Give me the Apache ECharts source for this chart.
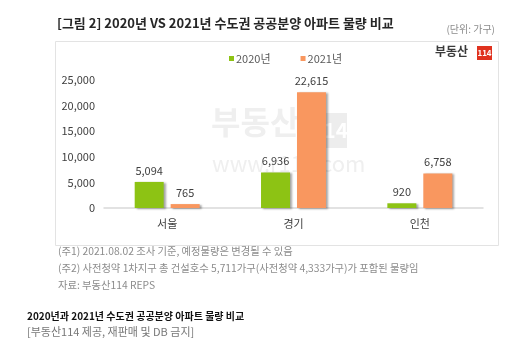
<!DOCTYPE html>
<html>
<head>
<meta charset="utf-8">
<script src="https://cdn.jsdelivr.net/npm/echarts@6/dist/echarts.min.js"></script>
<style>
  html, body { margin: 0; padding: 0; background: #fff; }
  #chart { width: 521px; height: 345px; }
</style>
</head>
<body>
<div id="chart"></div>
<script>
// 수도권 공공분양 아파트 물량 (단위: 가구)
const regions = ['서울', '경기', '인천'];
const seriesNames = ['2020년', '2021년'];
const values2020 = [5094, 6936, 920];
const values2021 = [765, 22615, 6758];
const yTicks = [0, 5000, 10000, 15000, 20000, 25000];

const FONT = '"Noto Sans CJK KR", "Noto Sans", sans-serif';
const GREEN = '#8dc314';
const ORANGE = '#f9975f';

const chart = echarts.init(document.getElementById('chart'), null, { renderer: 'canvas' });

const fmt = v => v.toLocaleString('en-US');

function barSeries(name, data, color) {
  return {
    name: name,
    type: 'bar',
    data: data,
    barWidth: 29,
    barGap: '24%',
    itemStyle: {
      color: color,
      shadowColor: 'rgba(0,0,0,0.35)',
      shadowBlur: 2,
      shadowOffsetX: 2,
      shadowOffsetY: 1
    },
    label: {
      show: true,
      position: 'top',
      distance: 6,
      formatter: p => fmt(p.value),
      color: '#404040',
      fontFamily: FONT,
      fontSize: 11
    },
    z: 5
  };
}

chart.setOption({
  animation: false,
  backgroundColor: '#ffffff',
  textStyle: { fontFamily: FONT },
  grid: { left: 104, right: 38, top: 80, bottom: 137, containLabel: false },
  legend: {
    data: seriesNames,
    top: 48,
    left: 224,
    itemWidth: 5,
    itemHeight: 5,
    itemGap: 30,
    icon: 'rect',
    textStyle: { fontSize: 11, color: '#595959', fontFamily: FONT, padding: [0, 0, 0, -3] }
  },
  xAxis: {
    type: 'category',
    data: regions,
    axisLine: { lineStyle: { color: '#d9d9d9', width: 1.5 } },
    axisTick: { show: false },
    axisLabel: { color: '#404040', fontSize: 11, margin: 10, fontFamily: FONT }
  },
  yAxis: {
    type: 'value',
    min: yTicks[0],
    max: yTicks[yTicks.length - 1],
    interval: yTicks[1] - yTicks[0],
    splitLine: { show: false },
    axisLine: { show: false },
    axisTick: { show: false },
    axisLabel: { color: '#404040', fontSize: 11, margin: 9, fontFamily: FONT, formatter: v => fmt(v) }
  },
  series: [
    barSeries(seriesNames[0], values2020, GREEN),
    barSeries(seriesNames[1], values2021, ORANGE)
  ],
  graphic: [
    // 차트 프레임
    { type: 'rect', left: 53, top: 39, shape: { width: 443, height: 204 },
      style: { fill: 'none', stroke: '#e3e3e3', lineWidth: 1 }, z: 0, silent: true },
    // 제목
    { type: 'text', left: 57, top: 17, style: { text: '[그림 2] 2020년 VS 2021년 수도권 공공분양 아파트 물량 비교',
      fontFamily: FONT, fontSize: 13, fontWeight: 'bold', fill: '#262626' } },
    { type: 'text', right: 26, top: 24, style: { text: '(단위: 가구)',
      fontFamily: FONT, fontSize: 10, fill: '#8c8c8c' } },
    // 로고
    { type: 'text', left: 435, top: 45, style: { text: '부동산',
      fontFamily: FONT, fontSize: 12, fontWeight: 'bold', fill: '#3a3a3a' } },
    { type: 'rect', left: 477, top: 46, shape: { width: 15, height: 14 }, style: { fill: '#e0321f' } },
    { type: 'text', x: 484.5, y: 53, style: { text: '114', align: 'center', verticalAlign: 'middle',
      fontFamily: FONT, fontSize: 8, fontWeight: 'bold', fill: '#ffffff' } },
    // 워터마크
    { type: 'text', left: 211, top: 106, z: 1, silent: true, style: { text: '부동산',
      fontFamily: FONT, fontSize: 32, fontWeight: 'bold', fill: '#efefef' } },
    { type: 'rect', left: 312, top: 113, z: 1, silent: true, shape: { width: 35, height: 35 }, style: { fill: '#ededed' } },
    { type: 'text', x: 329.5, y: 130.5, z: 1, silent: true, style: { text: '114', align: 'center', verticalAlign: 'middle',
      fontFamily: FONT, fontSize: 21, fontWeight: 'bold', fill: '#ffffff' } },
    { type: 'text', left: 212, top: 153, z: 1, silent: true, style: { text: 'www.r114.com',
      fontFamily: FONT, fontSize: 22, fill: '#efefef' } },
    // 주석
    { type: 'text', left: 58, top: 246, style: { text: '(주1) 2021.08.02 조사 기준, 예정물량은 변경될 수 있음',
      fontFamily: FONT, fontSize: 10.3, fill: '#8c8c8c' } },
    { type: 'text', left: 58, top: 263, style: { text: '(주2) 사전청약 1차지구 총 건설호수 5,711가구(사전청약 4,333가구)가 포함된 물량임',
      fontFamily: FONT, fontSize: 10.3, fill: '#8c8c8c' } },
    { type: 'text', left: 58, top: 280, style: { text: '자료: 부동산114 REPS',
      fontFamily: FONT, fontSize: 10.3, fill: '#8c8c8c' } },
    // 캡션
    { type: 'text', left: 27, top: 311, style: { text: '2020년과 2021년 수도권 공공분양 아파트 물량 비교',
      fontFamily: FONT, fontSize: 10, fontWeight: 'bold', fill: '#111111' } },
    { type: 'text', left: 27, top: 326, style: { text: '[부동산114 제공, 재판매 및 DB 금지]',
      fontFamily: FONT, fontSize: 11, fill: '#777777' } }
  ]
});
</script>
</body>
</html>
